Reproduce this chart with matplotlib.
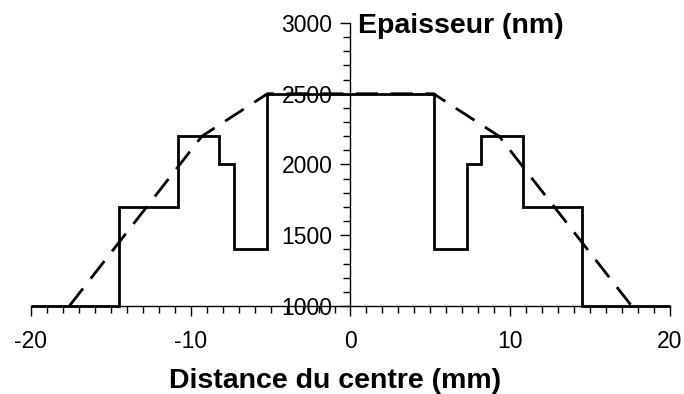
import matplotlib
matplotlib.use("Agg")
import matplotlib.pyplot as plt
from matplotlib.ticker import MultipleLocator

plt.rcParams["font.family"] = ["Liberation Sans", "DejaVu Sans"]
plt.rcParams["axes.unicode_minus"] = False

# measured thickness profile (step) across the sample
step_edges = [-20, -14.5, -10.8, -8.2, -7.3, -5.2, 5.2, 7.3, 8.2, 10.8, 14.5, 20]
step_levels = [1000, 1700, 2200, 2000, 1400, 2500, 1400, 2000, 2200, 1700, 1000]

# target envelope (dashed)
env_x = [-17.6, -9.3, -5.2, 5.2, 9.3, 17.6]
env_y = [1000, 2200, 2500, 2500, 2200, 1000]

fig = plt.figure(figsize=(6.84, 3.94), dpi=100)
ax = fig.add_axes([0.0453, 0.2234, 0.9342, 0.7182])

ax.stairs(step_levels, step_edges, baseline=None, color="black",
          linewidth=2.0, clip_on=False)
ax.plot(env_x, env_y, color="black", linewidth=2.0, dashes=(8, 4.5),
        clip_on=False)

ax.set_xlim(-20, 20)
ax.set_ylim(1000, 3000)

# y axis sits at x = 0, x axis along the bottom
ax.spines["left"].set_position(("data", 0))
ax.spines["top"].set_visible(False)
ax.spines["right"].set_visible(False)
for s in ("left", "bottom"):
    ax.spines[s].set_linewidth(1.0)

ax.xaxis.set_major_locator(MultipleLocator(10))
ax.xaxis.set_minor_locator(MultipleLocator(1))
ax.yaxis.set_major_locator(MultipleLocator(500))
ax.yaxis.set_minor_locator(MultipleLocator(100))

ax.tick_params(axis="both", which="major", direction="out", length=7,
               width=1.0, labelsize=16.5)
ax.tick_params(axis="both", which="minor", direction="out", length=5,
               width=1.0)
ax.tick_params(axis="x", which="major", pad=10)
ax.tick_params(axis="y", which="major", pad=6)

ax.set_xlabel("Distance du centre (mm)", fontsize=20.5, fontweight="bold")
ax.xaxis.set_label_coords(0.476, -0.265)
ax.xaxis.label.set_va("center")
fig.text(358 / 684, 1 - 26 / 394, "Epaisseur (nm)", fontsize=20.5,
         fontweight="bold", ha="left", va="center")

fig.savefig("out.png", dpi=100)
